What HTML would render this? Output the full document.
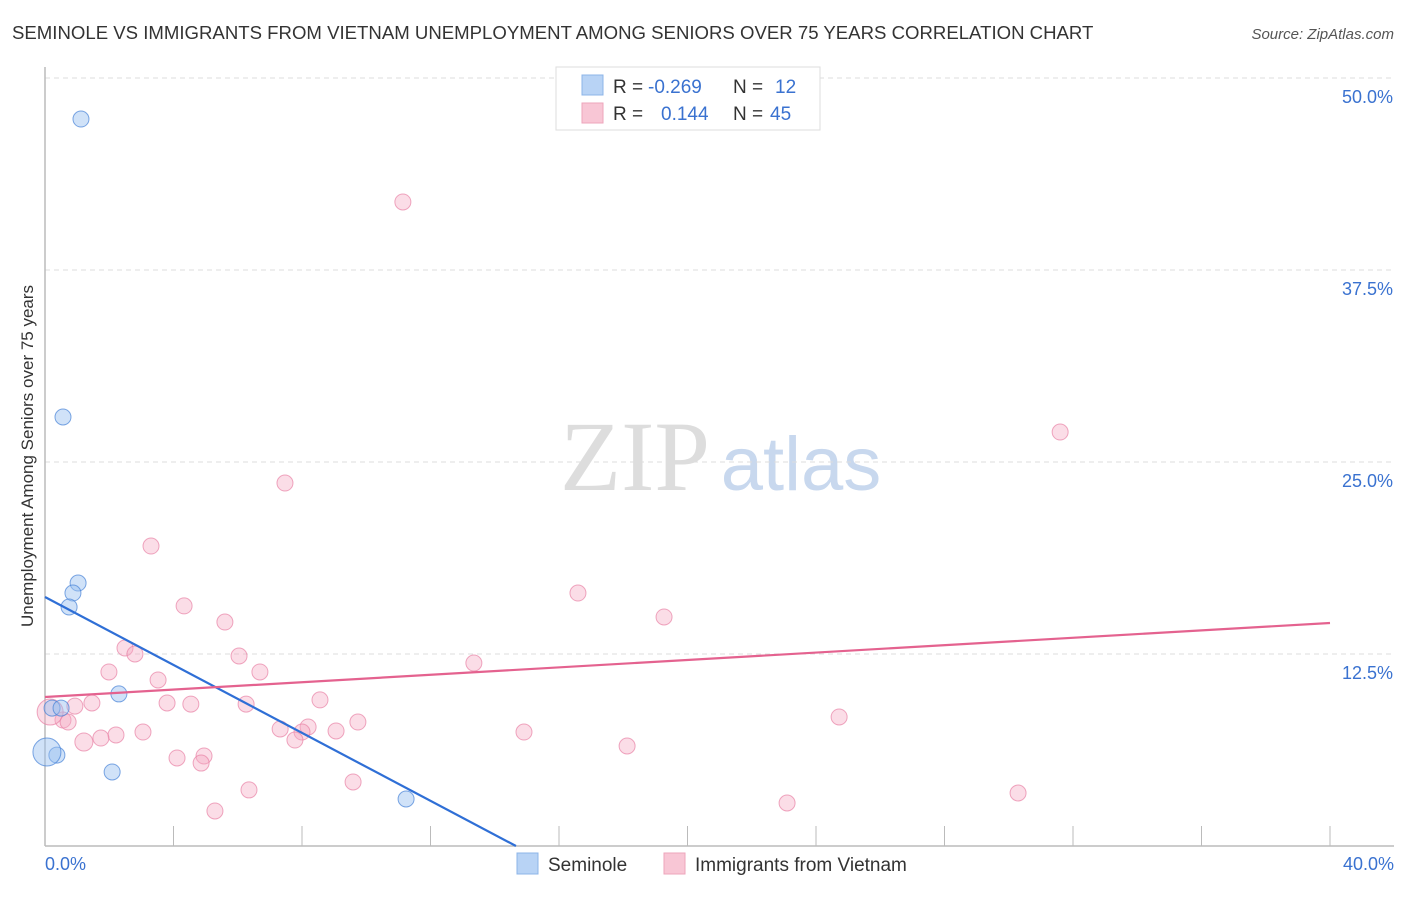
<!DOCTYPE html>
<html><head><meta charset="utf-8"><style>
body{margin:0;width:1406px;height:892px;background:#fff;overflow:hidden;font-family:"Liberation Sans",sans-serif}
</style></head><body>
<svg id="chart" width="1406" height="892" xmlns="http://www.w3.org/2000/svg" font-family="Liberation Sans, sans-serif">
<text x="12" y="39" font-size="18.6" fill="#333">SEMINOLE VS IMMIGRANTS FROM VIETNAM UNEMPLOYMENT AMONG SENIORS OVER 75 YEARS CORRELATION CHART</text>
<text x="1394" y="39" font-size="15" fill="#555" text-anchor="end" font-style="italic">Source: ZipAtlas.com</text>
<text transform="translate(33,456) rotate(-90)" font-size="17" fill="#333" text-anchor="middle">Unemployment Among Seniors over 75 years</text>
<g>
<text x="635" y="490" font-size="100" fill="#ddd" font-family="Liberation Serif, serif" text-anchor="middle">ZIP</text>
<text x="801" y="490" font-size="76" fill="#c8d8ee" text-anchor="middle">atlas</text>
</g>
<g id="grid"></g><g id="axes"></g><g id="pts"></g><g id="trend"></g>
<g>
<rect x="556" y="67" width="264" height="63" fill="#fff" stroke="#ddd"/>
<rect x="582" y="75" width="21" height="20" fill="#b8d3f5" stroke="#8cb4e8"/>
<rect x="582" y="103" width="21" height="20" fill="#f8c6d5" stroke="#eea5bb"/>
<text x="613" y="93" font-size="19" fill="#333">R =</text><text x="648" y="93" font-size="19" fill="#3a72d0">-0.269</text>
<text x="733" y="93" font-size="19" fill="#333">N =</text><text x="775" y="93" font-size="19" fill="#3a72d0">12</text>
<text x="613" y="120" font-size="19" fill="#333">R =</text><text x="661" y="120" font-size="19" fill="#3a72d0">0.144</text>
<text x="733" y="120" font-size="19" fill="#333">N =</text><text x="770" y="120" font-size="19" fill="#3a72d0">45</text>
</g>
<g>
<rect x="517" y="853" width="21" height="21" fill="#b8d3f5" stroke="#8cb4e8"/>
<text x="548" y="871" font-size="19" fill="#333">Seminole</text>
<rect x="664" y="853" width="21" height="21" fill="#f8c6d5" stroke="#eea5bb"/>
<text x="695" y="871" font-size="19" fill="#333">Immigrants from Vietnam</text>
</g>
</svg>
<script>
const blueX=[1.12,0.56,1.03,0.87,0.75,2.30,0.22,0.50,0.37,0.06,2.09,11.24];
const blueY=[47.33,27.93,17.12,16.47,15.56,9.90,8.98,8.98,5.92,6.12,4.82,3.06];
const blueR=[8,8,8,8,8,8,8,8,8,14,8,8];
const pinkX=[11.14,31.60,7.47,3.30,16.59,4.33,19.27,5.60,2.49,2.80,6.04,13.35,1.99,6.69,3.52,8.56,1.46,3.80,4.54,6.26,0.93,24.72,9.74,8.19,7.32,8.00,9.06,14.91,0.56,0.16,0.72,2.21,1.74,3.05,1.21,7.78,18.12,4.11,4.95,4.86,9.59,6.35,30.29,23.10,5.29];
const pinkY=[41.93,26.95,23.63,19.53,16.47,15.63,14.91,14.58,12.89,12.50,12.37,11.91,11.33,11.33,10.81,9.51,9.31,9.31,9.24,9.24,9.11,8.40,8.07,7.75,7.62,7.42,7.49,7.42,8.20,8.72,8.07,7.23,7.03,7.42,6.77,6.90,6.51,5.73,5.86,5.40,4.17,3.65,3.45,2.80,2.28];
const pinkR=[8,8,8,8,8,8,8,8,8,8,8,8,8,8,8,8,8,8,8,8,8,8,8,8,8,8,8,8,8,13,8,8,8,8,9,8,8,8,8,8,8,8,8,8,8];
const blueTrendX=[0,14.66];
const blueTrendY=[16.21,0];
const pinkTrendX=[0,40];
const pinkTrendY=[9.70,14.52];
const yTicks=[12.5,25,37.5,50];
const yTickLabels=["12.5%","25.0%","37.5%","50.0%"];
const xTicks=[0,4,8,12,16,20,24,28,32,36,40];
const NS="http://www.w3.org/2000/svg";
const sx=v=>45+v/40*1285, sy=v=>846-v/50*768;
function mk(tag,a,p){const e=document.createElementNS(NS,tag);for(const k in a)e.setAttribute(k,a[k]);document.getElementById(p).appendChild(e);return e;}
yTicks.forEach((t,i)=>{
 const l=mk('line',{x1:45,x2:1394,y1:sy(t),y2:sy(t),stroke:'#ddd','stroke-dasharray':'5,4'},'grid');
 
 
 const tx=mk('text',{x:1393,y:sy(t)+25,'font-size':18,fill:'#3a72d0','text-anchor':'end'},'grid');tx.textContent=yTickLabels[i];
 
 
});
const ax=mk('line',{x1:45,x2:1394,y1:846,y2:846,stroke:'#bbb','stroke-width':1.5},'axes');


const ay=mk('line',{x1:45,x2:45,y1:67,y2:846,stroke:'#bbb','stroke-width':1.5},'axes');


xTicks.forEach(t=>{const l=mk('line',{x1:sx(t),x2:sx(t),y1:826,y2:846,stroke:'#bbb'},'axes');
 
 });
const x0=mk('text',{x:45,y:870,'font-size':18,fill:'#3a72d0'},'axes');x0.textContent='0.0%';


const x1=mk('text',{x:1394,y:870,'font-size':18,fill:'#3a72d0','text-anchor':'end'},'axes');x1.textContent='40.0%';


pinkX.forEach((v,i)=>{const c=mk('circle',{cx:sx(v),cy:sy(pinkY[i]),r:pinkR[i],fill:'rgba(246,170,195,0.4)',stroke:'rgba(232,130,165,0.7)'},'pts');
 
 });
blueX.forEach((v,i)=>{const c=mk('circle',{cx:sx(v),cy:sy(blueY[i]),r:blueR[i],fill:'rgba(150,190,240,0.45)',stroke:'rgba(70,130,215,0.7)'},'pts');
 
 });
const bl=mk('line',{x1:sx(blueTrendX[0]),y1:sy(blueTrendY[0]),x2:sx(blueTrendX[1]),y2:sy(blueTrendY[1]),stroke:'#2f6fd6','stroke-width':2.2},'trend');


const pl=mk('line',{x1:sx(pinkTrendX[0]),y1:sy(pinkTrendY[0]),x2:sx(pinkTrendX[1]),y2:sy(pinkTrendY[1]),stroke:'#e4628f','stroke-width':2.2},'trend');


</script>
</body></html>
